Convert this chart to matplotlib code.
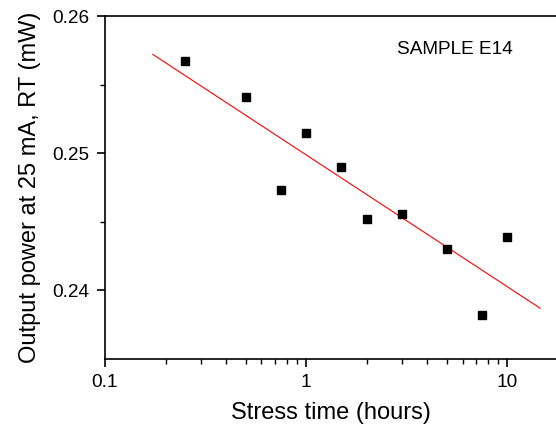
import matplotlib
matplotlib.use("Agg")
import matplotlib.pyplot as plt
from matplotlib.ticker import LogLocator, FixedLocator, NullFormatter

plt.rcParams["font.family"] = ["Liberation Sans", "DejaVu Sans"]

# stress time (hours) and measured output power (mW)
stress_hours = [0.25, 0.5, 0.75, 1.0, 1.5, 2.0, 3.0, 5.0, 7.5, 10.0]
power_mw = [0.2567, 0.2541, 0.2473, 0.2515, 0.2490, 0.2452, 0.2456, 0.2430, 0.2382, 0.2439]

# fitted trend line end points
fit_x = [0.173, 14.6]
fit_y = [0.2572, 0.2387]

fig = plt.figure(figsize=(5.56, 4.28), dpi=100)
ax = fig.add_axes([0.1888, 0.1612, 0.8112, 0.8014])

ax.plot(fit_x, fit_y, color="red", lw=0.8)
ax.plot(stress_hours, power_mw, ls="none", marker="s", ms=5.4, color="black")

ax.set_xscale("log")
ax.set_xlim(0.1, 17.5)
ax.set_ylim(0.235, 0.26)

ax.xaxis.set_major_locator(FixedLocator([0.1, 1, 10]))
ax.set_xticklabels(["0.1", "1", "10"])
ax.xaxis.set_minor_locator(LogLocator(base=10, subs=range(2, 10)))
ax.xaxis.set_minor_formatter(NullFormatter())

ax.set_yticks([0.24, 0.25, 0.26])
ax.set_yticklabels(["0.24", "0.25", "0.26"])
ax.set_yticks([0.245, 0.255], minor=True)

ax.spines["right"].set_visible(False)
for s in ["left", "bottom", "top"]:
    ax.spines[s].set_linewidth(1.2)

ax.tick_params(which="major", direction="out", length=6, width=1.2, labelsize=13.7, pad=5)
ax.tick_params(which="minor", direction="out", length=3.5, width=1.0)
ax.tick_params(top=False, right=False)

ax.set_xlabel("Stress time (hours)", fontsize=17, labelpad=8)
ax.set_ylabel("Output power at 25 mA, RT (mW)", fontsize=17, labelpad=8)

ax.text(0.776, 0.902, "SAMPLE E14", transform=ax.transAxes, ha="center", va="center", fontsize=13.7)

fig.savefig("out.png", dpi=100)
